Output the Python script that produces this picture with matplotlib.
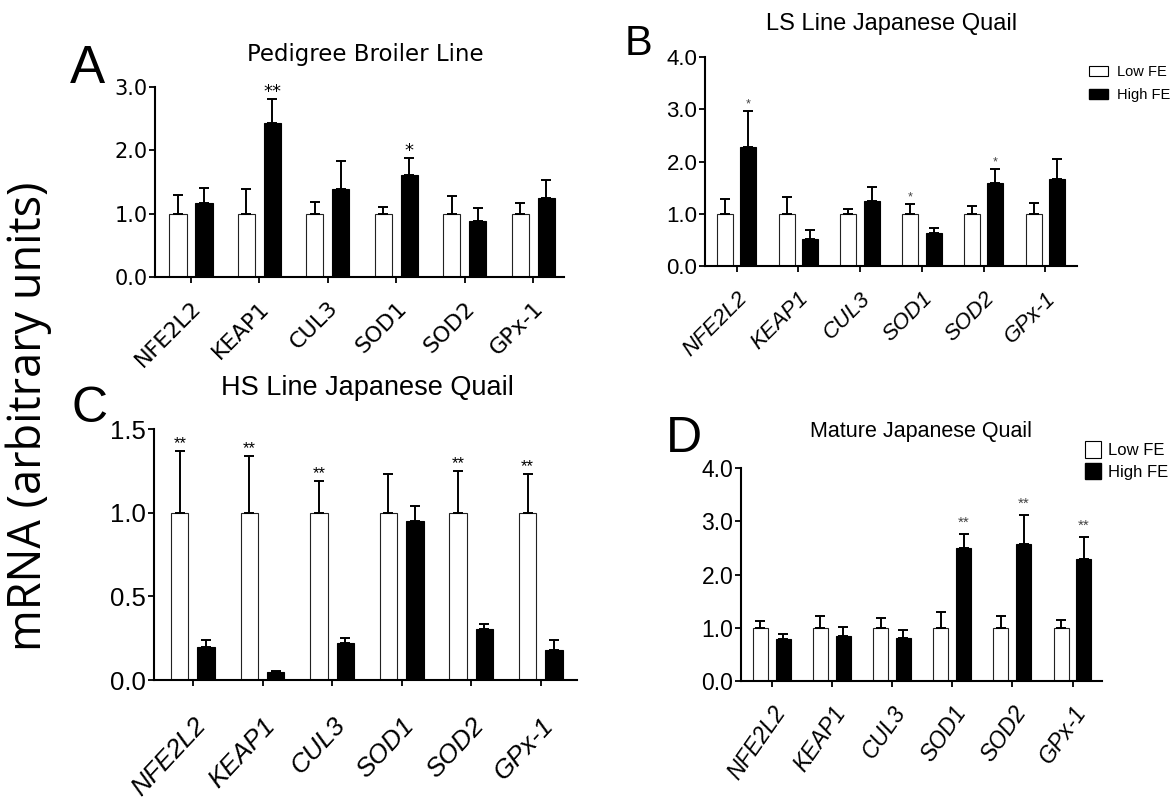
import numpy as np
import matplotlib
matplotlib.use('Agg')
import matplotlib.pyplot as plt
from matplotlib.patches import Patch

# --- data ---
genes = ["NFE2L2", "KEAP1", "CUL3", "SOD1", "SOD2", "GPx-1"]

# A: Pedigree Broiler Line
a_low = [1.0, 1.0, 1.0, 1.0, 1.0, 1.0]
a_low_err = [0.29, 0.39, 0.18, 0.11, 0.28, 0.17]
a_high = [1.17, 2.43, 1.39, 1.61, 0.88, 1.24]
a_high_err = [0.23, 0.38, 0.44, 0.27, 0.21, 0.29]
a_stars_low = ["", "", "", "", "", ""]
a_stars_high = ["", "**", "", "*", "", ""]

# B: LS Line Japanese Quail
b_low = [1.0, 1.0, 1.0, 1.0, 1.0, 1.0]
b_low_err = [0.28, 0.32, 0.09, 0.18, 0.15, 0.20]
b_high = [2.28, 0.52, 1.25, 0.63, 1.59, 1.66]
b_high_err = [0.69, 0.16, 0.26, 0.09, 0.27, 0.39]
b_stars_low = ["", "", "", "*", "", ""]
b_stars_high = ["*", "", "", "", "*", ""]

# C: HS Line Japanese Quail
c_low = [1.0, 1.0, 1.0, 1.0, 1.0, 1.0]
c_low_err = [0.37, 0.34, 0.19, 0.23, 0.25, 0.23]
c_high = [0.20, 0.05, 0.22, 0.95, 0.305, 0.18]
c_high_err = [0.04, 0.005, 0.03, 0.09, 0.03, 0.06]
c_stars_low = ["**", "**", "**", "", "**", "**"]
c_stars_high = ["", "", "", "", "", ""]

# D: Mature Japanese Quail
d_low = [1.0, 1.0, 1.0, 1.0, 1.0, 1.0]
d_low_err = [0.12, 0.22, 0.18, 0.29, 0.22, 0.14]
d_high = [0.78, 0.84, 0.81, 2.49, 2.575, 2.30]
d_high_err = [0.095, 0.17, 0.15, 0.27, 0.55, 0.41]
d_stars_low = ["", "", "", "", "", ""]
d_stars_high = ["", "", "", "**", "**", "**"]

series_labels = ["Low FE", "High FE"]

# --- fonts ---
ARIAL = "Liberation Sans"
WIDE = "DejaVu Sans"

W, H = 1176, 807
fig = plt.figure(figsize=(W / 100, H / 100), dpi=100)
fig.patch.set_facecolor("white")


def px_axes(x0, y0, x1, y1):
    return fig.add_axes([x0 / W, 1 - y1 / H, (x1 - x0) / W, (y1 - y0) / H])


def draw_panel(ax, low, low_err, high, high_err, st_low, st_high, ymax, yticks,
               xlim, font, ytick_size, xtick_size, rot, italic, xpad,
               star_size, star_off, star_color, width=0.25):
    x = np.arange(len(genes))
    off = 0.19
    ax.bar(x - off, low, width, color="white", edgecolor="#222222", linewidth=0.8, zorder=2)
    ax.bar(x + off, high, width, color="black", edgecolor="black", linewidth=0.8, zorder=2)
    z = np.zeros(len(genes))
    ax.errorbar(x - off, low, yerr=[z, low_err], fmt="none", ecolor="black",
                elinewidth=1.4, capsize=3.5, capthick=1.4, zorder=3)
    ax.errorbar(x + off, high, yerr=[z, high_err], fmt="none", ecolor="black",
                elinewidth=1.4, capsize=3.5, capthick=1.4, zorder=3)
    for i in range(len(genes)):
        for xs, m, e, s in ((x[i] - off, low[i], low_err[i], st_low[i]),
                            (x[i] + off, high[i], high_err[i], st_high[i])):
            if s:
                ax.annotate(s, (xs, m + e), xytext=(0, star_off), textcoords="offset points",
                            ha="center", va="baseline", fontsize=star_size,
                            color=star_color, family=font)
    ax.set_xlim(*xlim)
    ax.set_ylim(0, ymax)
    ax.set_yticks(yticks)
    ax.set_yticklabels([f"{v:.1f}" for v in yticks], fontsize=ytick_size, family=font)
    ax.set_xticks(x)
    ax.set_xticklabels(genes, rotation=rot, ha="right", rotation_mode="anchor",
                       fontsize=xtick_size, family=font,
                       style="italic" if italic else "normal")
    for sp in ("top", "right"):
        ax.spines[sp].set_visible(False)
    for sp in ("left", "bottom"):
        ax.spines[sp].set_linewidth(1.5)
    ax.tick_params(axis="both", direction="out", length=4, width=1.3)
    ax.tick_params(axis="y", pad=1.5)
    ax.tick_params(axis="x", pad=xpad)
    ax.set_facecolor("white")


# A
axA = px_axes(155, 87, 564, 277)
draw_panel(axA, a_low, a_low_err, a_high, a_high_err, a_stars_low, a_stars_high,
           3.0, [0.0, 1.0, 2.0, 3.0], (-0.526, 5.45), WIDE, 15, 16, 45, False, 11,
           13, 1.5, "black")

# B
axB = px_axes(705, 57, 1077, 266)
draw_panel(axB, b_low, b_low_err, b_high, b_high_err, b_stars_low, b_stars_high,
           4.0, [0.0, 1.0, 2.0, 3.0, 4.0], (-0.51, 5.51), ARIAL, 16, 16, 45, True, 12,
           9, 2.6, "#444444", width=0.26)

# C
axC = px_axes(154, 429, 577, 680)
draw_panel(axC, c_low, c_low_err, c_high, c_high_err, c_stars_low, c_stars_high,
           1.5, [0.0, 0.5, 1.0, 1.5], (-0.56, 5.52), ARIAL, 18.5, 19, 47, True, 20,
           12, 2, "black")

# D
axD = px_axes(741, 468, 1102, 681)
draw_panel(axD, d_low, d_low_err, d_high, d_high_err, d_stars_low, d_stars_high,
           4.0, [0.0, 1.0, 2.0, 3.0, 4.0], (-0.51, 5.49), ARIAL, 16.5, 16.5, 55, True, 11,
           11, 5, "#444444")

# titles
fig.text(365 / W, 1 - 61 / H, "Pedigree Broiler Line", ha="center", va="baseline",
         fontsize=16.5, family=WIDE)
fig.text(892 / W, 1 - 30 / H, "LS Line Japanese Quail", ha="center", va="baseline",
         fontsize=17, family=ARIAL)
fig.text(367 / W, 1 - 395 / H, "HS Line Japanese Quail", ha="center", va="baseline",
         fontsize=19.5, family=ARIAL)
fig.text(921 / W, 1 - 437 / H, "Mature Japanese Quail", ha="center", va="baseline",
         fontsize=15.5, family=ARIAL)

# panel letters
fig.text(70 / W, 1 - 83 / H, "A", ha="left", va="baseline", fontsize=38, family=ARIAL)
fig.text(625 / W, 1 - 55 / H, "B", ha="left", va="baseline", fontsize=30, family=ARIAL)
fig.text(72 / W, 1 - 422 / H, "C", ha="left", va="baseline", fontsize=36, family=ARIAL)
fig.text(666 / W, 1 - 452 / H, "D", ha="left", va="baseline", fontsize=36, family=ARIAL)

# shared y label
fig.text(29 / W, 1 - 416 / H, "mRNA (arbitrary units)", rotation=90, ha="center",
         va="center", fontsize=32.5, family="Open Sans")

# legends
handles = [Patch(facecolor="white", edgecolor="black", linewidth=0.8),
           Patch(facecolor="black", edgecolor="black")]
fig.legend(handles, series_labels, loc="upper left", bbox_to_anchor=(1089 / W, 1 - 65 / H),
           bbox_transform=fig.transFigure, frameon=False, borderpad=0, borderaxespad=0,
           prop={"family": ARIAL, "size": 10.5}, handlelength=1.3, handleheight=0.68,
           handletextpad=0.6, labelspacing=0.65)
fig.legend(handles, series_labels, loc="upper left", bbox_to_anchor=(1085 / W, 1 - 441 / H),
           bbox_transform=fig.transFigure, frameon=False, borderpad=0, borderaxespad=0,
           prop={"family": ARIAL, "size": 12}, handlelength=0.95, handleheight=1.15,
           handletextpad=0.45, labelspacing=0.3)

fig.savefig("out.png", dpi=100, facecolor="white")
